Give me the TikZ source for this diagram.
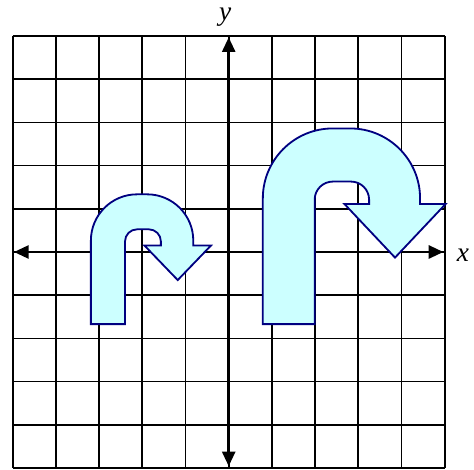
\documentclass[tikz,border=0pt]{standalone}
\usepackage{fontspec}
\setmainfont{Liberation Serif}
\usetikzlibrary{arrows.meta}
\definecolor{shapefill}{HTML}{CCFFFF}
\definecolor{shapeline}{HTML}{000080}
\begin{document}
\begin{tikzpicture}[x=1cm,y=1cm,
  gridline/.style={line width=1.1pt,black},
  axisline/.style={line width=1.8pt,black,{Triangle[length=0.34cm,width=0.3cm]}-{Triangle[length=0.34cm,width=0.3cm]}},
  uturn/.style={fill=shapefill,draw=shapeline,line width=1.2pt,line join=miter},
  axlabel/.style={font=\fontsize{18}{20}\selectfont\itshape,inner sep=0pt}]
\useasboundingbox (-5.294,-5.03) rectangle (5.678,5.833);
% grid
\draw[gridline] (-5,-5) grid (5,5);
% axes
\coordinate (xl) at (-4.97,0);
\coordinate (xr) at (4.97,0);
\coordinate (yb) at (0,-4.96);
\coordinate (yt) at (0,4.97);
\draw[axisline] (xl) -- (xr);
\draw[axisline] (yb) -- (yt);
\node[axlabel,anchor=base] (xlab) at (5.42,-0.22) {x};
\node[axlabel,anchor=base] (ylab) at (-0.08,5.36) {y};
% small U-turn arrow
\draw[uturn] (-3.19,-1.67) -- (-3.19,0.265) arc[start angle=180,end angle=90,radius=1.07]
  -- (-1.89,1.335) arc[start angle=90,end angle=0,radius=1.07]
  -- (-0.82,0.15) -- (-0.41,0.15) -- (-1.18,-0.65) -- (-1.95,0.15) -- (-1.57,0.15)
  -- (-1.57,0.245) arc[start angle=0,end angle=90,radius=0.28]
  -- (-2.12,0.525) arc[start angle=90,end angle=180,radius=0.28]
  -- (-2.40,-1.67) -- cycle;
% large U-turn arrow
\draw[uturn] (0.79,-1.67) -- (0.79,1.24) arc[start angle=180,end angle=90,radius=1.62]
  -- (2.81,2.86) arc[start angle=90,end angle=0,radius=1.62]
  -- (4.43,1.11) -- (5.02,1.11) -- (3.85,-0.13) -- (2.68,1.11) -- (3.25,1.11)
  -- (3.25,1.21) arc[start angle=0,end angle=90,radius=0.42]
  -- (2.41,1.63) arc[start angle=90,end angle=180,radius=0.42]
  -- (1.99,-1.67) -- cycle;
\end{tikzpicture}
\end{document}
